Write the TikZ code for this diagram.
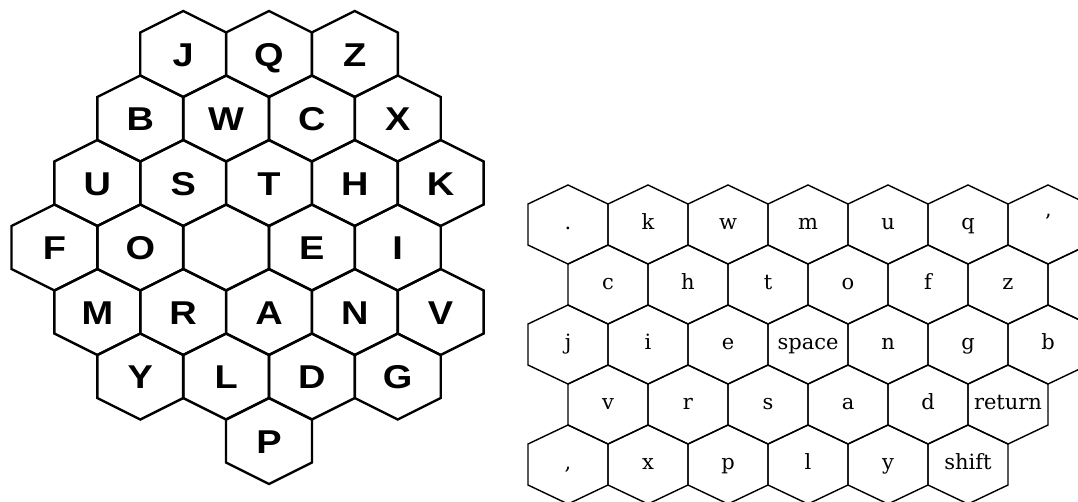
\documentclass[tikz,border=0pt]{standalone}
\usepackage{fontspec}
\usepackage{tikz}
\newfontfamily\keysans{Liberation Sans}
\newfontfamily\keyserif{DejaVu Serif}

\begin{document}
\begin{tikzpicture}[
    x=1pt, y=-1pt,
    bighex/.style={draw=black, line width=2.4pt},
    smallhex/.style={draw=black, line width=1.4pt},
    bigkey/.style={font=\keysans\bfseries\fontsize{33}{33}\selectfont, inner sep=0pt, text height=24pt, text depth=0pt},
    smallkey/.style={font=\keyserif\fontsize{21}{21}\selectfont, inner sep=0pt, text height=12pt, text depth=2pt},
]
    \useasboundingbox (0,0) rectangle (1078,501);
    \clip (0,0) rectangle (1078,501);
    % letter honeycomb
    \foreach \n/\t/\c/\r in {J/J/-1/0, Q/Q/0/0, Z/Z/1/0,
        B/B/-1.5/1, W/W/-0.5/1, C/C/0.5/1, X/X/1.5/1,
        U/U/-2/2, S/S/-1/2, T/T/0/2, H/H/1/2, K/K/2/2,
        F/F/-2.5/3, O/O/-1.5/3, blank/{}/-0.5/3, E/E/0.5/3, I/I/1.5/3,
        M/M/-2/4, R/R/-1/4, A/A/0/4, N/N/1/4, V/V/2/4,
        Y/Y/-1.5/5, L/L/-0.5/5, D/D/0.5/5, G/G/1.5/5,
        P/P/0/6} {
        \node[bigkey] (L\n) at ({269+85.8*\c},{54+64.5*\r}) {\scalebox{1.15}[1]{\t}};
        \draw[bighex] (L\n.center) ++(0,-43) -- ++(43,21.5) -- ++(0,43) -- ++(-43,21.5)
            -- ++(-43,-21.5) -- ++(0,-43) -- cycle;
    }
    % keyboard honeycomb
    \foreach \n/\t/\c/\r in {dot/./0/0, k/k/1/0, w/w/2/0, m/m/3/0, u/u/4/0, q/q/5/0, quote/{’}/6/0,
        c/c/0.5/1, h/h/1.5/1, t/t/2.5/1, o/o/3.5/1, f/f/4.5/1, z/z/5.5/1, empty/{}/6.5/1,
        j/j/0/2, i/i/1/2, e/e/2/2, space/space/3/2, n/n/4/2, g/g/5/2, b/b/6/2,
        v/v/0.5/3, r/r/1.5/3, s/s/2.5/3, a/a/3.5/3, d/d/4.5/3, return/return/5.5/3,
        comma/{,}/0/4, x/x/1/4, p/p/2/4, l/l/3/4, y/y/4/4, shift/shift/5/4} {
        \node[smallkey] (K\n) at ({568+80*\c},{224.5+60*\r}) {\t};
        \draw[smallhex] (K\n.center) ++(0,-39.5) -- ++(40,19) -- ++(0,41) -- ++(-40,19)
            -- ++(-40,-19) -- ++(0,-41) -- cycle;
    }
\end{tikzpicture}
\end{document}
